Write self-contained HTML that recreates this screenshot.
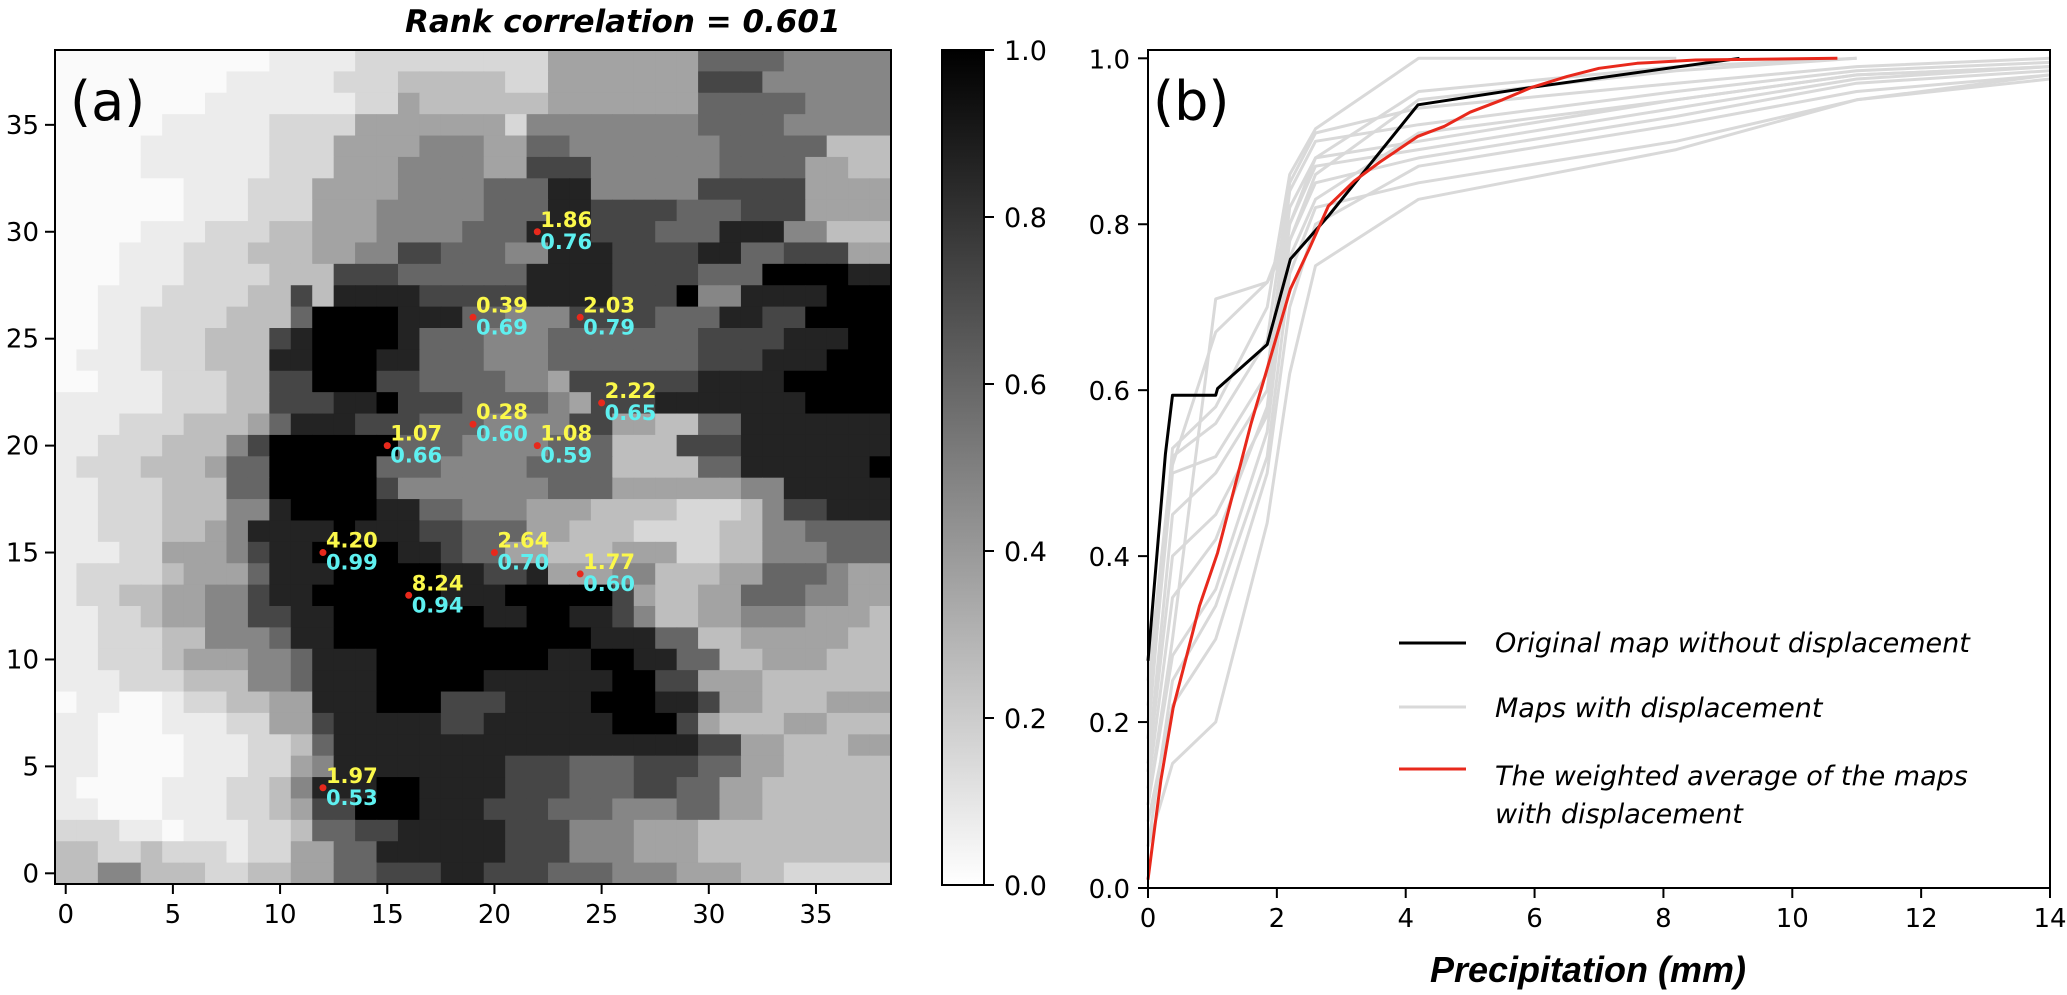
<!DOCTYPE html>
<html><head><meta charset="utf-8"><style>
html,body{margin:0;padding:0;background:#fff;}
svg{display:block;font-family:"DejaVu Sans","Liberation Sans",sans-serif;}
</style></head><body>
<svg id="fig" width="2067" height="995" viewBox="0 0 2067 995" xmlns="http://www.w3.org/2000/svg">
<defs><linearGradient id="cbg" x1="0" y1="0" x2="0" y2="1"><stop offset="0" stop-color="#000"/><stop offset="1" stop-color="#fff"/></linearGradient></defs>
<g id="heat"></g>
<g id="annot"></g>
<g id="axA"></g>
<text x="405" y="32" font-size="31" font-weight="bold" font-style="italic">Rank correlation = 0.601</text>
<text x="70" y="120" font-size="54">(a)</text>
<g id="cbar"></g>
<g id="axB"></g>
<text x="1153" y="120" font-size="54">(b)</text>
<g id="legend"></g>
<text x="1588" y="982" font-size="36" font-weight="bold" font-style="italic" text-anchor="middle" font-family="'Liberation Sans',sans-serif">Precipitation (mm)</text>
</svg>
<script>
// ---------- Heatmap data (rows top y=38 -> bottom y=0; run-length "digit:count", value=digit/9)
const heatRows = [
"0:10 1:4 2:9 4:7 6:4 5:5",
"0:8 1:5 2:3 3:5 2:2 4:7 7:3 5:6",
"0:7 1:7 2:2 4:1 3:6 4:7 6:5 5:4",
"0:5 1:5 2:4 4:7 2:1 5:8 6:4 5:5",
"0:4 1:6 2:3 4:4 5:3 4:2 6:2 5:7 6:5 3:3",
"0:4 1:6 2:3 4:3 5:4 4:2 7:3 5:6 6:4 4:2 3:2",
"0:6 1:3 2:3 4:4 5:4 6:3 8:2 5:5 7:5 4:4",
"0:6 1:3 2:3 4:3 5:5 6:3 8:2 7:4 6:3 7:3 4:4",
"0:4 1:3 2:3 3:2 4:3 5:4 6:3 8:3 7:3 6:3 8:3 5:2 3:3",
"0:3 1:3 2:3 3:3 4:2 5:2 7:2 6:3 5:2 8:3 7:4 8:2 6:2 7:3 4:2",
"0:3 1:3 2:4 3:3 7:3 6:6 8:4 7:4 6:3 9:4 8:2",
"0:2 1:3 2:4 3:2 7:1 3:1 8:4 7:5 8:4 7:3 9:1 5:2 8:4 9:3",
"0:2 1:2 2:4 3:3 6:1 9:4 8:3 6:2 5:3 7:4 6:3 8:2 7:2 9:4",
"0:2 1:2 2:3 3:3 7:1 8:1 9:4 8:1 6:3 5:3 6:7 7:4 8:3 9:2",
"0:1 1:3 2:3 3:3 8:2 9:3 8:2 6:3 5:3 6:7 7:3 8:3 9:3",
"0:2 1:3 2:3 3:2 7:2 9:3 7:2 6:4 5:2 4:1 7:6 8:4 9:5",
"1:5 2:3 3:2 7:3 8:2 9:1 7:3 6:4 5:1 4:1 7:3 8:7 9:4",
"1:3 2:3 3:3 4:1 6:1 8:3 7:3 6:3 5:4 7:2 4:2 3:2 6:2 8:7",
"1:2 2:3 3:3 5:1 7:1 9:6 6:3 5:4 6:3 3:3 7:3 8:7",
"1:1 2:3 3:3 4:1 6:2 9:5 6:3 5:4 6:4 3:4 6:2 8:6 9:1",
"1:2 2:3 3:3 6:2 9:5 7:1 5:7 6:3 4:6 5:2 8:5",
"1:2 2:3 3:3 5:2 8:1 9:4 8:2 6:2 5:3 4:3 3:4 2:3 3:1 5:1 7:2 8:4",
"1:2 2:3 3:2 4:1 5:1 8:4 9:1 8:3 7:2 6:3 4:2 3:3 2:4 3:2 5:2 6:4",
"1:2 1:1 2:2 4:3 5:1 7:1 8:2 9:4 8:2 7:1 6:2 4:2 3:3 4:3 2:2 3:2 5:3 6:3",
"1:1 2:4 3:1 4:3 6:1 8:3 9:5 8:2 7:2 8:1 4:3 5:2 3:3 4:2 6:3 5:1 4:2",
"1:1 2:2 3:2 4:2 5:2 7:1 8:2 9:6 8:3 9:5 7:1 4:1 3:2 4:2 6:3 5:2 4:2",
"1:2 2:2 3:1 4:2 5:2 7:2 8:2 9:7 8:2 9:2 8:2 7:1 5:1 3:2 4:2 5:3 4:3 3:1",
"1:2 2:3 3:2 5:3 6:1 8:2 9:12 8:3 6:2 3:2 4:5 3:2",
"1:2 2:3 3:1 4:3 5:2 6:1 8:3 9:8 8:2 9:2 8:2 6:2 3:2 4:3 3:3",
"1:3 2:3 3:3 5:2 6:1 8:3 9:5 8:6 9:2 7:2 4:3 3:6",
"0:1 1:2 0:2 1:1 2:2 3:2 4:2 8:3 9:3 7:3 8:4 9:3 8:2 7:1 4:2 3:3 4:3",
"1:2 0:3 1:3 2:2 4:2 7:1 8:5 7:2 8:6 9:3 7:1 4:1 3:3 4:2 3:3",
"1:2 0:4 1:3 2:2 3:1 6:1 8:17 7:2 4:2 3:3 4:2",
"1:2 0:4 1:3 2:2 4:1 5:1 8:8 7:3 6:3 7:3 6:2 4:2 3:5",
"1:1 0:4 1:3 2:2 3:1 5:1 8:3 9:2 8:4 7:3 6:3 7:2 6:2 4:2 3:6",
"1:2 0:3 1:3 2:2 3:1 4:1 7:2 9:3 8:3 7:3 6:3 5:3 6:2 4:2 3:6",
"2:3 1:2 0:1 1:3 2:2 3:1 6:2 7:2 8:5 7:3 5:3 4:3 3:9",
"3:2 2:2 3:1 2:3 1:1 2:2 4:2 6:2 8:6 7:3 5:3 4:3 3:9",
"3:2 5:2 3:3 2:2 3:2 4:2 6:2 7:3 8:2 7:3 6:3 5:3 4:3 3:2 2:5"
];
// annotated points
const ptX = [22,19,24,25,19,15,22,20,24,16,12,12];
const ptY = [30,26,26,22,21,20,20,15,14,13,15,4];
const ptTop = ["1.86","0.39","2.03","2.22","0.28","1.07","1.08","2.64","1.77","8.24","4.20","1.97"];
const ptBot = ["0.76","0.69","0.79","0.65","0.60","0.66","0.59","0.70","0.60","0.94","0.99","0.53"];
const heatTicks = [0,5,10,15,20,25,30,35];
const cbTicks = [0.0,0.2,0.4,0.6,0.8,1.0];

// ---------- CDF panel data
const blackX = [0,0.27,0.38,1.05,1.08,1.85,2.21,2.8,4.19,5.96,9.18];
const blackY = [0.274,0.523,0.594,0.594,0.602,0.655,0.758,0.81,0.944,0.965,1.0];
const redX = [0,0.1,0.2,0.39,0.6,0.8,1.08,1.3,1.6,1.85,2.21,2.5,2.8,3.2,3.6,4.19,4.6,5.0,5.5,5.96,6.5,7.0,7.59,8.5,10.7];
const redY = [0.01,0.07,0.13,0.217,0.28,0.34,0.404,0.47,0.56,0.626,0.722,0.77,0.822,0.852,0.875,0.906,0.918,0.935,0.95,0.965,0.978,0.988,0.994,0.998,1.0];
const grayX = [0,0.38,1.05,1.85,2.2,2.6,4.2,8.2,11,14];
const gray1 = [0.05,0.15,0.20,0.44,0.62,0.75,0.83,0.89,0.95,0.975];
const gray2 = [0.08,0.22,0.30,0.50,0.70,0.80,0.87,0.92,0.96,0.98];
const gray3 = [0.10,0.28,0.36,0.55,0.78,0.85,0.88,0.93,0.97,0.985];
const gray4 = [0.12,0.35,0.42,0.58,0.80,0.87,0.89,0.94,0.975,0.99];
const gray5 = [0.15,0.45,0.50,0.60,0.82,0.88,0.90,0.95,0.98,0.99];
const gray6 = [0.20,0.50,0.52,0.62,0.84,0.90,0.92,0.96,0.985,0.995];
const gray7 = [0.25,0.52,0.56,0.66,0.85,0.91,0.94,0.97,0.99,1.0];
const gray8 = [0.18,0.53,0.58,0.70,0.86,0.915,1.0,1.0,null,null];
const gray9 = [0.22,0.51,0.67,0.73,0.80,0.88,0.96,0.99,1.0,null];
const gray10 = [0.10,0.30,0.71,0.73,0.78,0.86,0.95,0.985,1.0,null];
const gray11 = [0.05,0.25,0.34,0.52,0.74,0.82,0.85,0.90,0.95,0.98];
const gray12 = [0.14,0.40,0.45,0.57,0.76,0.83,0.91,0.95,0.98,0.99];
const grayAll = [gray1,gray2,gray3,gray4,gray5,gray6,gray7,gray8,gray9,gray10,gray11,gray12];
const bXTicks = [0,2,4,6,8,10,12,14];
const bYTicks = [0.0,0.2,0.4,0.6,0.8,1.0];
const legendLabels = ["Original map without displacement","Maps with displacement","The weighted average of the maps","with displacement"];

const NS="http://www.w3.org/2000/svg";
function mk(tag, parent, attrs){const e=document.createElementNS(NS,tag);for(const k in attrs)e.setAttribute(k,attrs[k]);parent.appendChild(e);return e;}

// heatmap geometry
const HL=55,HR=891,HT=50,HB=884,N=39;
const cw=(HR-HL)/N, ch=(HB-HT)/N;
const hx=v=>HL+(v+0.5)*cw;
const hy=v=>HB-(v+0.5)*ch;
const heat=document.getElementById('heat');
heatRows.forEach((r,ri)=>{
  let cells=[];
  r.split(' ').forEach(p=>{const [d,c]=p.split(':').map(Number);for(let k=0;k<c;k++)cells.push(d);});
  while(cells.length<N)cells.push(cells[cells.length-1]);
  cells=cells.slice(0,N);
  const yv=N-1-ri;
  cells.forEach((d,ci)=>{
    const g=Math.round(250*(1-Math.pow(d/9,1.3)));
    const el=mk('rect',heat,{x:(hx(ci)-cw/2).toFixed(2),y:(hy(yv)-ch/2).toFixed(2),width:(cw+0.6).toFixed(2),height:(ch+0.6).toFixed(2),fill:`rgb(${g},${g},${g})`});
    
    
  });
});
const annot=document.getElementById('annot');
ptX.forEach((x,i)=>{
  const cx=hx(x), cy=hy(ptY[i]);
  const t1=mk('text',annot,{x:cx+3,y:cy-5,'font-size':21,'font-weight':'bold',fill:'#fbf84a'});t1.textContent=ptTop[i];
  
  
  const t2=mk('text',annot,{x:cx+3,y:cy+17,'font-size':21,'font-weight':'bold',fill:'#5ef0f0'});t2.textContent=ptBot[i];
  
  
  const c=mk('circle',annot,{cx:cx,cy:cy,r:3.5,fill:'#e8291c'});
  
  
});
const axA=document.getElementById('axA');
mk('rect',axA,{x:HL,y:HT,width:HR-HL,height:HB-HT,fill:'none',stroke:'#000','stroke-width':2});
heatTicks.forEach(t=>{
  mk('line',axA,{x1:hx(t),x2:hx(t),y1:HB,y2:HB+10,stroke:'#000','stroke-width':2});
  const lx=mk('text',axA,{x:hx(t),y:HB+39,'font-size':26,'text-anchor':'middle'});lx.textContent=t;
  
  
  mk('line',axA,{x1:HL-10,x2:HL,y1:hy(t),y2:hy(t),stroke:'#000','stroke-width':2});
  const ly=mk('text',axA,{x:HL-16,y:hy(t)+9,'font-size':26,'text-anchor':'end'});ly.textContent=t;
  
  
});

// colorbar
const cb=document.getElementById('cbar');
const CL=942,CR=984,CT=50,CB=885;
mk('rect',cb,{x:CL,y:CT,width:CR-CL,height:CB-CT,fill:'url(#cbg)',stroke:'#000','stroke-width':2});
cbTicks.forEach(t=>{
  const y=CB-(CB-CT)*t;
  mk('line',cb,{x1:CR,x2:CR+10,y1:y,y2:y,stroke:'#000','stroke-width':2});
  const l=mk('text',cb,{x:CR+20,y:y+10,'font-size':27});l.textContent=t.toFixed(1);
  
  
});

// CDF panel
const BL=1148,BR=2050,BT=50,BB=888;
const bx=v=>BL+v*(BR-BL)/14;
const by=v=>BB-v*(BB-58.3);
const axB=document.getElementById('axB');
function poly(xs,ys,color,w,name){
  const pts=[];xs.forEach((x,i)=>{if(ys[i]!==null&&ys[i]!==undefined)pts.push(bx(x).toFixed(1)+','+by(ys[i]).toFixed(1));});
  const p=mk('polyline',axB,{points:pts.join(' '),fill:'none',stroke:color,'stroke-width':w,'stroke-linejoin':'round'});
  
  
}
grayAll.forEach(g=>poly(grayX,g,'#d9d9d9',3,'displaced-map-line'));
poly(blackX,blackY,'#000',3,'original-map-line');
poly(redX,redY,'#e8291c',3,'weighted-average-line');
mk('rect',axB,{x:BL,y:BT,width:BR-BL,height:BB-BT,fill:'none',stroke:'#000','stroke-width':2});
bXTicks.forEach(t=>{
  mk('line',axB,{x1:bx(t),x2:bx(t),y1:BB,y2:BB+10,stroke:'#000','stroke-width':2});
  const l=mk('text',axB,{x:bx(t),y:BB+39,'font-size':26,'text-anchor':'middle'});l.textContent=t;
  
  
});
bYTicks.forEach(t=>{
  mk('line',axB,{x1:BL-10,x2:BL,y1:by(t),y2:by(t),stroke:'#000','stroke-width':2});
  const l=mk('text',axB,{x:BL-18,y:by(t)+10,'font-size':26,'text-anchor':'end'});l.textContent=t.toFixed(1);
  
  
});

// legend
const lg=document.getElementById('legend');
const legColors=['#000','#d9d9d9','#e8291c'];
const legLineY=[643,707,769];
const legTextY=[652,717,785,823];
legColors.forEach((c,i)=>{
  const ln=mk('line',lg,{x1:1399,x2:1466,y1:legLineY[i],y2:legLineY[i],stroke:c,'stroke-width':3});
  
  
});
legendLabels.forEach((s,i)=>{
  const t=mk('text',lg,{x:1495,y:legTextY[i],'font-size':27,'font-style':'italic'});t.textContent=s;
  
  
});
</script>
</body></html>
